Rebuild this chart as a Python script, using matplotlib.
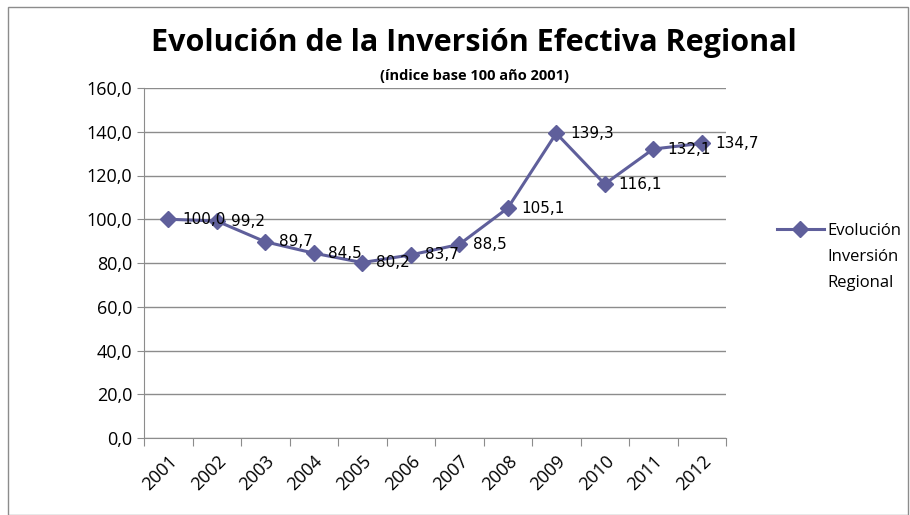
import matplotlib
matplotlib.use("Agg")
import matplotlib.pyplot as plt
from matplotlib.patches import Rectangle
from matplotlib.ticker import FuncFormatter

plt.rcParams['font.family'] = ['Open Sans', 'DejaVu Sans']

years = ['2001', '2002', '2003', '2004', '2005', '2006', '2007', '2008', '2009', '2010', '2011', '2012']
values = [100.0, 99.2, 89.7, 84.5, 80.2, 83.7, 88.5, 105.1, 139.3, 116.1, 132.1, 134.7]
yticks = [0, 20, 40, 60, 80, 100, 120, 140, 160]
legend_lines = ['Evolución', 'Inversión', 'Regional']

line_color = '#5f5f9b'

fig = plt.figure(figsize=(9.1, 5.15), dpi=100)
W, H = 910, 515
ax = fig.add_axes([144 / W, 1 - 438 / H, (726 - 144) / W, (438 - 88) / H])

x = list(range(len(years)))
ax.plot(x, values, color=line_color, lw=2.2, marker='D', ms=8, mec=line_color, mfc=line_color,
        label=legend_lines[0], zorder=3)

for xi, v in zip(x, values):
    ax.annotate(f"{v:.1f}".replace('.', ','), (xi, v), xytext=(10, 0), textcoords='offset points',
                ha='left', va='center', fontsize=11, family=['DejaVu Sans'], zorder=4)

ax.set_xlim(-0.5, len(years) - 0.5)
ax.set_ylim(0, 160)
ax.set_yticks(yticks)
ax.yaxis.set_major_formatter(FuncFormatter(lambda v, p: f"{v:.1f}".replace('.', ',')))
ax.grid(axis='y', color='#8c8c8c', lw=1)
ax.set_axisbelow(True)
ax.set_xticks([i - 0.5 for i in range(len(years) + 1)])
ax.set_xticklabels([''] * (len(years) + 1))
ax.set_xticks(x, minor=True)
ax.set_xticklabels(years, minor=True, rotation=45, ha='right', rotation_mode='anchor', fontsize=13)
ax.tick_params(axis='x', which='minor', length=0, pad=10)
ax.tick_params(axis='x', which='major', length=6, color='#8c8c8c', direction='out')
ax.tick_params(axis='y', length=5, color='#8c8c8c', labelsize=13)
for s in ['top', 'right']:
    ax.spines[s].set_visible(False)
for s in ['left', 'bottom']:
    ax.spines[s].set_color('#8c8c8c')

fig.text(474 / W, 1 - 43 / H, 'Evolución de la Inversión Efectiva Regional', ha='center', va='center',
         fontsize=22, fontweight='bold')
fig.text(474 / W, 1 - 76 / H, '(índice base 100 año 2001)', ha='center', va='center',
         fontsize=10.5, fontweight='bold')

leg = fig.legend(loc='center left', bbox_to_anchor=(762 / W, 1 - 231 / H), frameon=False, fontsize=12,
                 handlelength=2.8, handletextpad=0.2)

# the remaining lines of the legend label sit under the first one
fig.canvas.draw()
bb = leg.get_texts()[0].get_window_extent()
tx = bb.x0 / W
for i, line in enumerate(legend_lines[1:], start=1):
    fig.text(tx, 1 - (231 + 26 * i) / H, line, ha='left', va='center', fontsize=12)

fig.add_artist(Rectangle((8 / W, 0), 1 - 10 / W, 1 - 7 / H, transform=fig.transFigure,
                         fill=False, ec='#8c8c8c', lw=1))

fig.savefig('out.png', dpi=100)
